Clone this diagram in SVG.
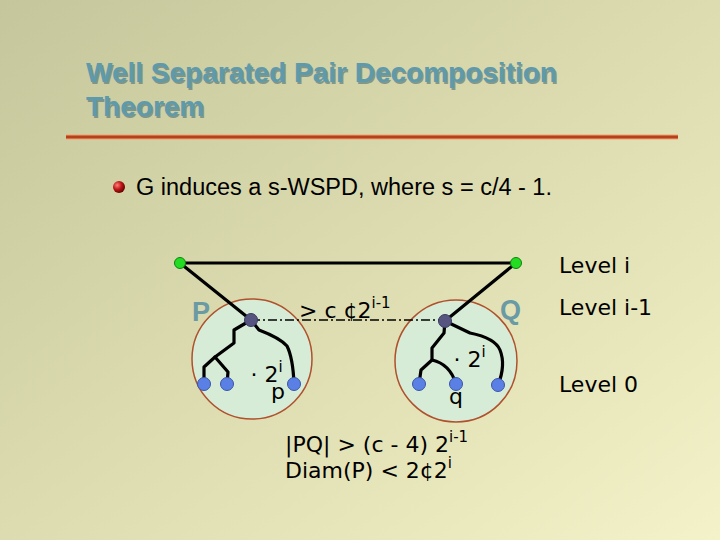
<svg xmlns="http://www.w3.org/2000/svg" width="720" height="540" viewBox="0 0 720 540">
<defs>
<linearGradient id="bg" x1="0" y1="0" x2="1" y2="1">
<stop offset="0" stop-color="#c6c69c"/>
<stop offset="0.5" stop-color="#dcdcb0"/>
<stop offset="1" stop-color="#f4f2c8"/>
</linearGradient>
<radialGradient id="ball" cx="0.35" cy="0.35" r="0.7">
<stop offset="0" stop-color="#ff8080"/>
<stop offset="0.5" stop-color="#c01818"/>
<stop offset="1" stop-color="#600000"/>
</radialGradient>
<style>
.title{font-family:"Liberation Sans",Arial,sans-serif;font-weight:bold;font-size:28px;fill:#5f9aab}
.shadow{fill:#4a6f78;opacity:0.6}
.body{font-family:"Liberation Sans",Arial,sans-serif;font-size:23.5px;fill:#000}
.t{font-family:"DejaVu Sans",Verdana,sans-serif;font-size:22px;fill:#000}
.sup{font-size:15px}
.lbl{font-family:"Liberation Sans",Arial,sans-serif;font-weight:bold;font-size:27px;fill:#6a9aa4}
.edge{fill:none;stroke:#000;stroke-width:3.2;stroke-linecap:round;stroke-linejoin:round}
.set{fill:#d6ecd6;stroke:#b0502c;stroke-width:1.5}
.leaf{fill:#5a80e6;stroke:#3a55a8;stroke-width:1}
.inner{fill:#55557f;stroke:#3a3a60;stroke-width:1}
.root{fill:#22dd22;stroke:#108010;stroke-width:1}
</style>
</defs>
<rect width="720" height="540" fill="url(#bg)"/>
<g id="title">
<text class="title shadow" x="87.5" y="83.5">Well Separated Pair Decomposition</text>
<text class="title shadow" x="87.5" y="117.5">Theorem</text>
<text class="title" x="86" y="82">Well Separated Pair Decomposition</text>
<text class="title" x="86" y="116">Theorem</text>
<line x1="66" y1="137" x2="678" y2="137" stroke="#f0a070" stroke-width="5"/>
<line x1="66" y1="137" x2="678" y2="137" stroke="#b5401a" stroke-width="3"/>
</g>
<g id="bullet">
<circle cx="119" cy="187" r="6" fill="url(#ball)"/>
<text class="body" x="136" y="195">G induces a s-WSPD, where s = c/4 - 1.</text>
</g>
<g id="setP"><circle class="set" cx="252" cy="359" r="60"/></g>
<g id="setQ"><circle class="set" cx="456" cy="361" r="61"/></g>
<g id="connectors">
<line x1="180" y1="263" x2="516" y2="263" class="edge"/>
<line x1="180" y1="263" x2="251" y2="320" class="edge"/>
<line x1="516" y1="263" x2="445" y2="321" class="edge"/>
<line x1="251" y1="320" x2="445" y2="320" stroke="#000" stroke-width="1.6" stroke-dasharray="9,3,2,3"/>
<path class="edge" d="M251 320 L234 330 L234 343 L215 357 L204 367 L204 384"/>
<path class="edge" d="M215 357 L228 372 L227 384"/>
<path class="edge" d="M251 320 L259 330 Q280 338 287 346 Q293 358 294 384"/>
<path class="edge" d="M445 321 L444 333 L432 348 L432 360 L421 370 L419 384"/>
<path class="edge" d="M432 360 Q450 364 456 384"/>
<path class="edge" d="M445 321 L470 333 Q495 338 500 350 Q506 365 498 385"/>
</g>
<g id="nodes">
<circle class="root" cx="180" cy="263" r="5.5"/>
<circle class="root" cx="516" cy="263" r="5.5"/>
<circle class="inner" cx="251" cy="320" r="6.5"/>
<circle class="inner" cx="445" cy="321" r="6.5"/>
<circle class="leaf" cx="204" cy="384" r="6.5"/>
<circle class="leaf" cx="227" cy="384" r="6.5"/>
<circle class="leaf" cx="294" cy="384" r="6.5"/>
<circle class="leaf" cx="419" cy="384" r="6.5"/>
<circle class="leaf" cx="456" cy="384" r="6.5"/>
<circle class="leaf" cx="498" cy="385" r="6.5"/>
</g>
<g id="labels">
<text class="lbl" x="192" y="321">P</text>
<text class="lbl" x="500" y="319">Q</text>
<text class="t" x="299" y="318">&gt; c ¢2<tspan class="sup" dy="-10">i-1</tspan></text>
<text class="t" x="250.5" y="382">· 2<tspan class="sup" dy="-10">i</tspan></text>
<text class="t" x="271" y="399">p</text>
<text class="t" x="453.5" y="367">· 2<tspan class="sup" dy="-10">i</tspan></text>
<text class="t" x="449" y="404">q</text>
<text class="t" x="285" y="452">|PQ| &gt; (c - 4) 2<tspan class="sup" dy="-10">i-1</tspan></text>
<text class="t" x="285" y="478">Diam(P) &lt; 2¢2<tspan class="sup" dy="-10">i</tspan></text>
<text class="t" x="559" y="273">Level i</text>
<text class="t" x="559" y="315">Level i-1</text>
<text class="t" x="559" y="392">Level 0</text>
</g>
</svg>
